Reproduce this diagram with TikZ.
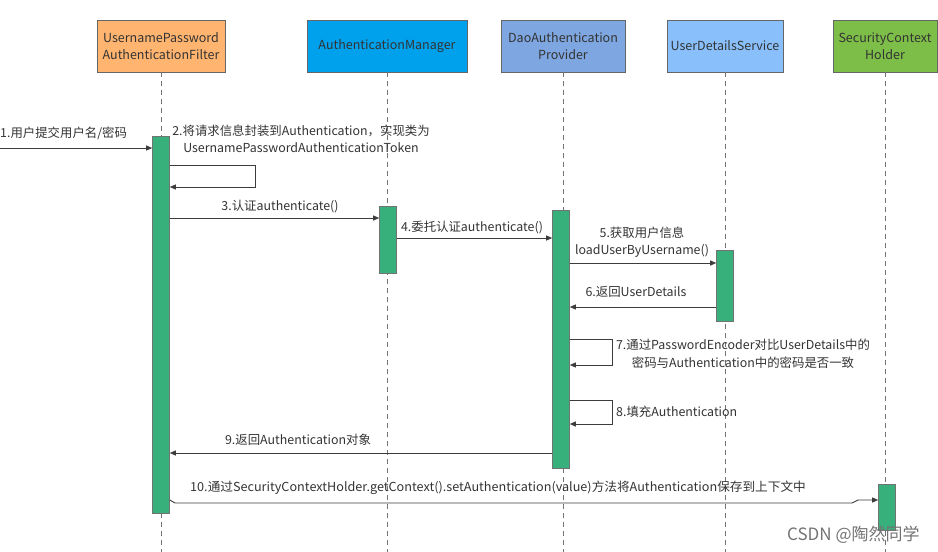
\documentclass[tikz,border=0pt]{standalone}
\usepackage{fontspec}
\setmainfont{Noto Sans CJK SC}
\usetikzlibrary{arrows.meta}
\definecolor{cOrange}{RGB}{255,181,112}
\definecolor{cAM}{RGB}{0,161,236}
\definecolor{cDAP}{RGB}{126,166,224}
\definecolor{cUDS}{RGB}{137,192,252}
\definecolor{cSCH}{RGB}{125,190,72}
\definecolor{cBar}{RGB}{56,176,124}
\definecolor{cTxt}{RGB}{51,51,51}
\definecolor{cLine}{RGB}{60,60,60}
\tikzset{
  actor/.style={draw=black!60, line width=0.8pt, align=center, text=cTxt,
    minimum height=52pt, inner sep=2pt,
    font=\fontsize{12.5}{17}\selectfont},
  lifeline/.style={draw=black!55, line width=0.9pt, dash pattern=on 5pt off 4pt},
  actbar/.style={draw=black!55, fill=cBar, line width=0.6pt, minimum width=17pt, anchor=north, inner sep=0pt},
  msg/.style={draw=cLine, line width=0.9pt, -{Triangle[length=6pt,width=5pt]}},
  lbl/.style={text=cTxt, inner sep=0pt, font=\fontsize{12.4}{17.5}\selectfont, align=center}
}
\begin{document}
\begin{tikzpicture}[x=1pt,y=-1pt]
\useasboundingbox (0,0) rectangle (938,552);
% actors
\node[actor, fill=cOrange, minimum width=128pt] (a1) at (161,46) {UsernamePassword\\AuthenticationFilter};
\node[actor, fill=cAM, minimum width=160pt] (a2) at (387,46) {AuthenticationManager};
\node[actor, fill=cDAP, minimum width=124pt] (a3) at (563,46) {DaoAuthentication\\Provider};
\node[actor, fill=cUDS, minimum width=116pt] (a4) at (725,46) {UserDetailsService};
\node[actor, fill=cSCH, minimum width=104pt] (a5) at (885,46) {SecurityContext\\Holder};
% lifelines
\foreach \a in {a1,a2,a3,a4,a5} {\draw[lifeline] (\a.south) -- (\a.south |- 0,552);}
% activation bars
\node[actbar, minimum height=377pt] (b1) at (161,136) {};
\node[actbar, minimum height=67pt] (b2) at (388,206) {};
\node[actbar, minimum height=258pt] (b3) at (561,210) {};
\node[actbar, minimum height=71pt] (b4) at (725,250) {};
\node[actbar, minimum height=46pt] (b5) at (887,484) {};
\coordinate (start) at (0,148);
% 1
\draw[msg] (start) -- (b1.west |- start);
\node[lbl, anchor=west] (l1) at (0,133) {1.用户提交用户名/密码};
% 2
\draw[msg] (b1.east |- 0,165) -- (255,165) -- (255,187) -- (b1.east |- 0,187);
\node[lbl] (l2) at (301,139) {2.将请求信息封装到Authentication，实现类为\\UsernamePasswordAuthenticationToken};
% 3
\draw[msg] (b1.east |- 0,218) -- (b2.west |- 0,218);
\node[lbl] (l3) at (280,207) {3.认证authenticate()};
% 4
\draw[msg] (b2.east |- 0,238) -- (b3.west |- 0,238);
\node[lbl] (l4) at (472,228) {4.委托认证authenticate()};
% 5
\draw[msg] (b3.east |- 0,263) -- (b4.west |- 0,263);
\node[lbl] (l5) at (642,242) {5.获取用户信息\\loadUserByUsername()};
% 6
\draw[msg] (b4.west |- 0,307) -- (b3.east |- 0,307);
\node[lbl] (l6) at (636,292) {6.返回UserDetails};
% 7
\draw[msg] (b3.east |- 0,339) -- (612,339) -- (612,365) -- (b3.east |- 0,365);
\node[lbl] (l7) at (743,354) {7.通过PasswordEncoder对比UserDetails中的\\密码与Authentication中的密码是否一致};
% 8
\draw[msg] (b3.east |- 0,400) -- (612,400) -- (612,424) -- (b3.east |- 0,424);
\node[lbl, anchor=west] (l8) at (616,412) {8.填充Authentication};
% 9
\draw[msg] (b3.west |- 0,453) -- (b1.east |- 0,453);
\node[lbl] (l9) at (298,440) {9.返回Authentication对象};
% 10
\draw[msg] (b1.east |- 0,500) -- (175,503) -- (852,503) -- (858,500) -- (b5.west |- 0,500);
\node[lbl, anchor=west] (l10) at (190,488) {\scalebox{1.02}[1]{10.通过SecurityContextHolder.getContext().setAuthentication(value)方法将Authentication保存到上下文中}};
% watermark
\node[text=black!55, anchor=west, inner sep=0pt, font=\fontsize{17}{19}\selectfont] (wm) at (787,535) {CSDN @陶然同学};
\end{tikzpicture}
\end{document}
